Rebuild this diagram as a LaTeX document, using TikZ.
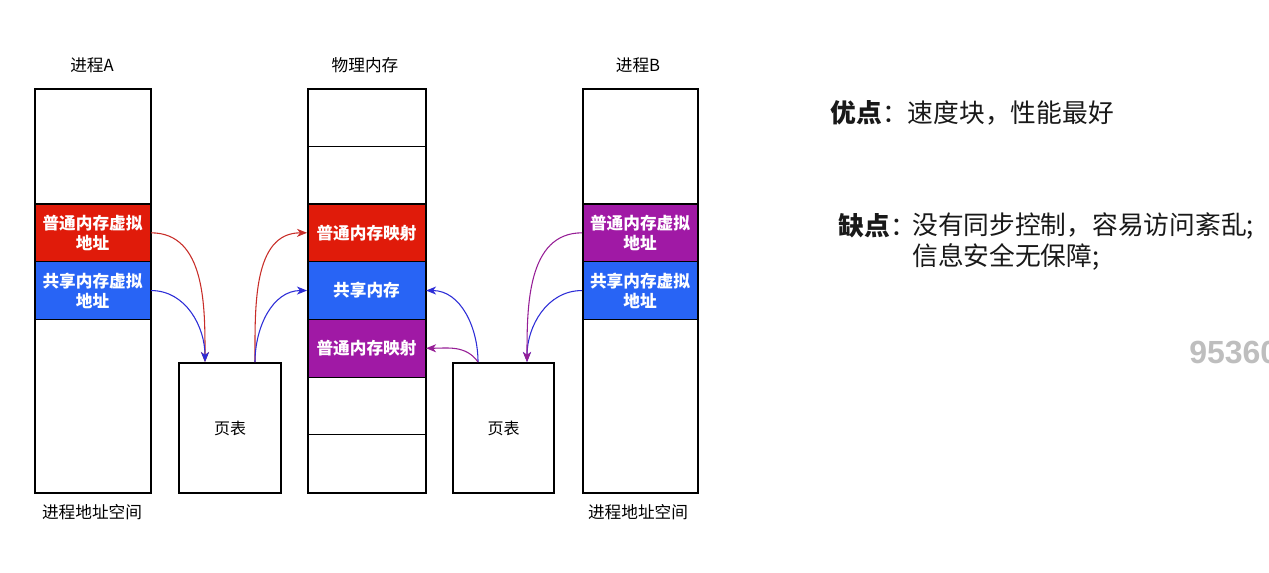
\documentclass[tikz,border=0pt]{standalone}
\usepackage{fontspec}
\setmainfont{Noto Sans CJK SC}
\newfontfamily\wmfont{Liberation Sans}
\usetikzlibrary{arrows.meta,calc}
\definecolor{cred}{RGB}{224,27,10}
\definecolor{cblue}{RGB}{40,100,245}
\definecolor{cpurple}{RGB}{160,25,165}
\definecolor{ared}{RGB}{200,45,40}
\definecolor{ablue}{RGB}{45,45,215}
\definecolor{apurple}{RGB}{150,30,150}
\definecolor{wmgray}{RGB}{190,190,190}
\tikzset{
  cell/.style={draw=black, line width=0.8pt, anchor=north west, inner sep=0pt,
    minimum height=43.29pt, align=center, text=white,
    font=\bfseries\fontsize{12.5}{15}\selectfont},
  outer/.style={draw=black, line width=1.6pt, anchor=north west, inner sep=0pt, minimum height=303pt},
  ptbox/.style={draw=black, line width=1.6pt, anchor=north west, inner sep=0pt,
    minimum height=97.5pt},
  title/.style={font=\fontsize{12.5}{15}\selectfont, text=black},
  conn/.style={line width=0.8pt, -{Stealth[length=7.5pt,width=6pt,inset=2.2pt]}},
  bigtext/.style={font=\fontsize{19.3}{23.25}\selectfont, text=black!90}
}
\begin{document}
\begin{tikzpicture}[x=0.75pt,y=-0.75pt]
\useasboundingbox (0,0) rectangle (1269,572);
\fill[white] (0,0) rectangle (1269,572);

% titles
\node[title] (tAtitle) at (92,65) {进程A};
\node[title] (tMtitle) at (365,65) {物理内存};
\node[title] (tBtitle) at (638,65) {进程B};
\node[title] (aSpace) at (92,512) {进程地址空间};
\node[title] (bSpace) at (638,512) {进程地址空间};

% process A
\node[cell, minimum width=87pt, fill=cred] (aR) at (34,203.43) {普通内存虚拟\\地址};
\node[cell, minimum width=87pt, fill=cblue] (aS) at (34,261.14) {共享内存虚拟\\地址};
\node[outer, minimum width=87pt] (pA) at (34,88) {};

% physical memory
\node[cell, minimum width=88.5pt] (m1) at (307,88) {};
\node[cell, minimum width=88.5pt] (m2) at (307,145.71) {};
\node[cell, minimum width=88.5pt, fill=cred] (m3) at (307,203.43) {普通内存映射};
\node[cell, minimum width=88.5pt, fill=cblue] (m4) at (307,261.14) {共享内存};
\node[cell, minimum width=88.5pt, fill=cpurple] (m5) at (307,318.86) {普通内存映射};
\node[cell, minimum width=88.5pt] (m6) at (307,376.57) {};
\node[cell, minimum width=88.5pt] (m7) at (307,434.29) {};
\node[outer, minimum width=88.5pt] (pM) at (307,88) {};

% process B
\node[cell, minimum width=86.25pt, fill=cpurple] (bR) at (582,203.43) {普通内存虚拟\\地址};
\node[cell, minimum width=86.25pt, fill=cblue] (bS) at (582,261.14) {共享内存虚拟\\地址};
\node[outer, minimum width=86.25pt] (pB) at (582,88) {};

% page tables
\node[ptbox, minimum width=76.5pt] (tA) at (178,362) {};
\node[title, font=\fontsize{12}{14}\selectfont] (tAlbl) at (tA.center) {页表};
\node[ptbox, minimum width=75.75pt] (tB) at (452,362) {};
\node[title, font=\fontsize{12}{14}\selectfont] (tBlbl) at (tB.center) {页表};

\coordinate (tAin) at ($(tA.north west)+(27,0)$);
\coordinate (tAout) at ($(tA.north west)+(77,0)$);
\coordinate (tBin) at ($(tB.north west)+(75,0)$);
\coordinate (tBout) at ($(tB.north west)+(26,0)$);

% connectors A
\draw[conn, ared] (aR.east) to[out=0,in=90] (tAin);
\draw[conn, ablue] (aS.east) to[out=0,in=90] (tAin);
\draw[conn, ared] (tAout) to[out=90,in=180] (m3.west);
\draw[conn, ablue] (tAout) to[out=90,in=180] (m4.west);

% connectors B
\draw[conn, ablue] (bS.west) to[out=180,in=90] (tBin);
\draw[conn, apurple] (bR.west) to[out=180,in=90] (tBin);
\draw[conn, ablue] (tBout) to[out=90,in=0] (m4.east);
\draw[conn, apurple] (tBout) to[out=125,in=0] (m5.east);

% right-hand text
\node[bigtext, anchor=west] (pros) at (826,113) {\textbf{优点}：速度块，性能最好};
\node[bigtext, anchor=west] (consl) at (834,226) {\textbf{缺点}：};
\node[bigtext, anchor=north west, align=left, inner sep=0pt] (cons) at (912,212) {没有同步控制，容易访问紊乱;\\信息安全无保障;};

% watermark
\node[anchor=west, inner sep=0pt, text=wmgray, font=\wmfont\bfseries\fontsize{24}{28}\selectfont] (wm) at (1189,352) {95360};
\end{tikzpicture}
\end{document}
